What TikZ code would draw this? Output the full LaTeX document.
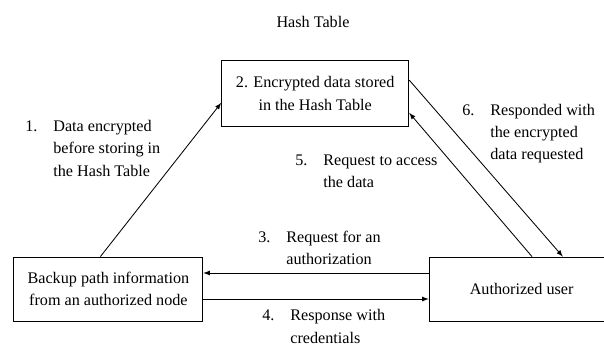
\documentclass[tikz,border=0pt]{standalone}
\usepackage{fontspec}
\setmainfont{Liberation Serif}
\usetikzlibrary{arrows}
\tikzset{%
	block/.style = {draw, rectangle, line width=0.6pt, align=center, inner sep=2pt},
	note/.style  = {inner sep=0pt, anchor=west},
	arrow/.style = {line width=0.6pt, -latex},
}

\begin{document}
\begin{tikzpicture}[font=\fontsize{11.5}{16}\selectfont]
	\useasboundingbox (0,0) rectangle (15.1,8.675);
	\node (title) at (7.825,8.125) {Hash Table};
	\node[block, minimum width=4.68cm, minimum height=1.65cm] (hash) at (7.88,6.333) {2. Encrypted data stored\\in the Hash Table};
	\node[block, minimum width=4.725cm, minimum height=1.6cm] (backup) at (2.71,1.45) {Backup path information\\from an authorized node};
	\node[block, minimum width=4.625cm, minimum height=1.6cm] (user) at (13.04,1.45) {Authorized user};
	% step labels
	\node[note] (l1) at (0.625,4.94) {\begin{tabular}{@{}l@{\hspace{0.4cm}}l@{}}1.&Data encrypted\\&before storing in\\&the Hash Table\end{tabular}};
	\node[note] (l3) at (6.45,2.45) {\begin{tabular}{@{}l@{\hspace{0.4cm}}l@{}}3.&Request for an\\&authorization\end{tabular}};
	\node[note] (l4) at (6.55,0.49) {\begin{tabular}{@{}l@{\hspace{0.4cm}}l@{}}4.&Response with\\&credentials\end{tabular}};
	\node[note] (l5) at (7.375,4.375) {\begin{tabular}{@{}l@{\hspace{0.4cm}}l@{}}5.&Request to access\\&the data\end{tabular}};
	\node[note] (l6) at (11.55,5.35) {\begin{tabular}{@{}l@{\hspace{0.4cm}}l@{}}6.&Responded with\\&the encrypted\\&data requested\end{tabular}};
	% connectors
	\draw[arrow] ([xshift=-0.2cm]backup.north) -- ([yshift=-0.23cm]hash.west);
	\draw[arrow] ([yshift=0.34cm]hash.east) -- ([xshift=1.03cm]user.north);
	\draw[arrow] ([xshift=0.26cm]user.north) -- ([yshift=-0.48cm]hash.east);
	\draw[arrow] ([yshift=0.4cm]user.west) -- ([yshift=0.4cm]backup.east);
	\draw[arrow] ([yshift=-0.25cm]backup.east) -- ([yshift=-0.25cm]user.west);
\end{tikzpicture}
\end{document}
